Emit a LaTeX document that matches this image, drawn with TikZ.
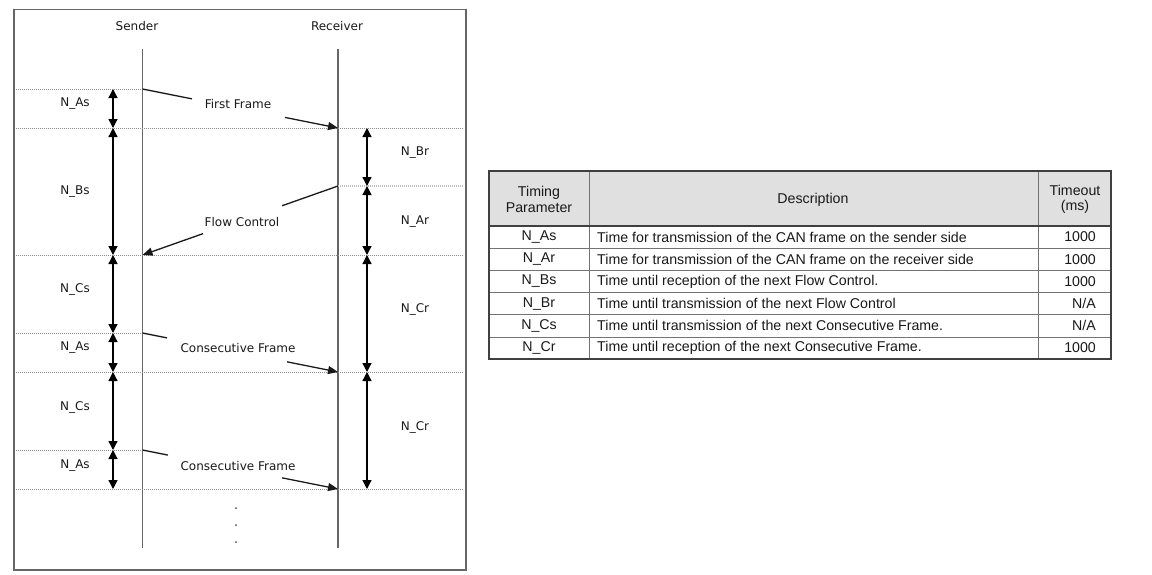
\documentclass[tikz,border=0pt]{standalone}
\usepackage{fontspec}
\setmainfont{Liberation Sans}
\newfontfamily\diafont{DejaVu Sans}
\usetikzlibrary{arrows.meta,calc}

\begin{document}
\begin{tikzpicture}
        [   x = 1pt
        ,   y = -1pt
        ,   every node/.style =
            {   inner sep = 0pt
            ,   text = black!90
            }
        ,   lbl/.style =
            {   font = \diafont\fontsize{12}{14}\selectfont
            }
        ,   cell/.style =
            {   font = \fontsize{14.2}{15.5}\selectfont
            ,   align = center
            }
        ,   lifeline/.style =
            {   draw = black!60
            ,   line width = 1.5pt
            }
        ,   level/.style =
            {   draw = black!45
            ,   line width = 0.6pt
            ,   dash pattern = on 1pt off 1pt
            }
        ,   span/.style =
            {   draw = black
            ,   line width = 1.3pt
            ,   {Triangle[width=9pt,length=9pt]}-{Triangle[width=9pt,length=9pt]}
            }
        ,   msg/.style =
            {   draw = black!90
            ,   line width = 1.3pt
            }
        ,   msgtip/.style =
            {   msg
            ,   -{Triangle[width=8pt,length=10pt]}
            }
        ]
        \useasboundingbox (0,0) rectangle (1152,574);

        % frame of the sequence chart
        \draw [draw = black!60, line width = 1.6pt] (14,9.5) rectangle (466,570);

        \node [lbl] (snd) at (137,26) {Sender};
        \node [lbl] (rcv) at (337,26) {Receiver};

        \coordinate (stop) at (142.5,49);
        \coordinate (sbot) at (142.5,548);
        \coordinate (rtop) at (338,49);
        \coordinate (rbot) at (338,548);
        \draw [lifeline] (stop) -- (sbot);
        \draw [lifeline] (rtop) -- (rbot);

        % time marks on sender, receiver, left span and right span
        \coordinate (s1) at (142.5,89);   \coordinate (a1) at (113,89);
        \coordinate (s2) at (142.5,128);  \coordinate (a2) at (113,128);
        \coordinate (r2) at (338,128);    \coordinate (b2) at (367,128);
        \coordinate (r3) at (338,186);    \coordinate (b3) at (367,186);
        \coordinate (s4) at (142.5,255);  \coordinate (a4) at (113,255);
        \coordinate (r4) at (338,255);    \coordinate (b4) at (367,255);
        \coordinate (s5) at (142.5,333);  \coordinate (a5) at (113,333);
        \coordinate (s6) at (142.5,372);  \coordinate (a6) at (113,372);
        \coordinate (r6) at (338,372);    \coordinate (b6) at (367,372);
        \coordinate (s7) at (142.5,450);  \coordinate (a7) at (113,450);
        \coordinate (s8) at (142.5,489);  \coordinate (a8) at (113,489);
        \coordinate (r8) at (338,489);    \coordinate (b8) at (367,489);

        % dotted levels
        \draw [level] (16,89) -- (s1);
        \draw [level] (16,128) -- (464,128);
        \draw [level, draw = black!25, line width = 1.2pt] (r3) -- (464,186);
        \draw [level] (16,255) -- (464,255);
        \draw [level] (16,333) -- (s5);
        \draw [level] (16,372) -- (464,372);
        \draw [level] (16,450) -- (s7);
        \draw [level] (16,489) -- (464,489);

        % messages
        \node [lbl] (ff) at (238,104) {First Frame};
        \draw [msg] (s1) -- ($(s1)!0.253!(r2)$);
        \draw [msgtip] ($(s1)!0.729!(r2)$) -- (r2);

        \node [lbl] (fc) at (242,222) {Flow Control};
        \draw [msg] (r3) -- ($(r3)!0.286!(s4)$);
        \draw [msgtip] ($(r3)!0.69!(s4)$) -- (s4);

        \node [lbl] (cf1) at (238,348) {Consecutive Frame};
        \draw [msg] (s5) -- ($(s5)!0.125!(r6)$);
        \draw [msgtip] ($(s5)!0.739!(r6)$) -- (r6);

        \node [lbl] (cf2) at (238,466) {Consecutive Frame};
        \draw [msg] (s7) -- ($(s7)!0.13!(r8)$);
        \draw [msgtip] ($(s7)!0.714!(r8)$) -- (r8);

        \fill [black!70] (236,508) circle (1) (236,525) circle (1) (236,542) circle (1);

        % timing spans
        \draw [span] (a1) -- (a2);
        \draw [span] (a2) -- (a4);
        \draw [span] (a4) -- (a5);
        \draw [span] (a5) -- (a6);
        \draw [span] (a6) -- (a7);
        \draw [span] (a7) -- (a8);
        \draw [span] (b2) -- (b3);
        \draw [span] (b3) -- (b4);
        \draw [span] (b4) -- (b6);
        \draw [span] (b6) -- (b8);

        \node [lbl] (nas1) at (75,104) {N\_As};
        \node [lbl] (nbs)  at (75,192) {N\_Bs};
        \node [lbl] (ncs1) at (75,289) {N\_Cs};
        \node [lbl] (nas2) at (75,348) {N\_As};
        \node [lbl] (ncs2) at (75,407) {N\_Cs};
        \node [lbl] (nas3) at (75,466) {N\_As};
        \node [lbl] (nbr)  at (415,153) {N\_Br};
        \node [lbl] (nar)  at (415,222) {N\_Ar};
        \node [lbl] (ncr1) at (415,309) {N\_Cr};
        \node [lbl] (ncr2) at (415,427) {N\_Cr};

        % timing table
        \fill [black!12] (489,171) rectangle (1111,226);
        \foreach \y in {248.2,270.4,292.6,314.8,337}
            \draw [black!55, line width = 0.8pt] (489,\y) -- (1111,\y);
        \draw [black!55, line width = 0.8pt] (589,171) -- (589,359.2);
        \draw [black!55, line width = 0.8pt] (1038,171) -- (1038,359.2);
        \draw [black!75, line width = 1.8pt] (489,226) -- (1111,226);
        \draw [black!75, line width = 1.8pt] (489,171) rectangle (1111,359.2);

        \node [cell] (hpar)  at (539,199.5)  {Timing\\Parameter};
        \node [cell] (hdesc) at (813,199.5)  {Description};
        \node [cell] (htime) at (1075,199.5) {Timeout\\(ms)};

        \foreach \tpar/\tdesc/\tval [count = \i] in
            {   N\_As/Time for transmission of the CAN frame on the sender side/1000
            ,   N\_Ar/Time for transmission of the CAN frame on the receiver side/1000
            ,   N\_Bs/Time until reception of the next Flow Control./1000
            ,   N\_Br/Time until transmission of the next Flow Control/{N/A}
            ,   N\_Cs/Time until transmission of the next Consecutive Frame./{N/A}
            ,   N\_Cr/Time until reception of the next Consecutive Frame./1000
            }
        {   \node [cell] (par\i) at (539,{226+22.2*(\i-0.5)}) {\tpar};
            \node [cell, anchor = west] (desc\i) at (597,{226+22.2*(\i-0.5)}) {\tdesc};
            \node [cell, anchor = east] (val\i) at (1100,{226+22.2*(\i-0.5)}) {\tval};
        }
    \end{tikzpicture}
\end{document}
